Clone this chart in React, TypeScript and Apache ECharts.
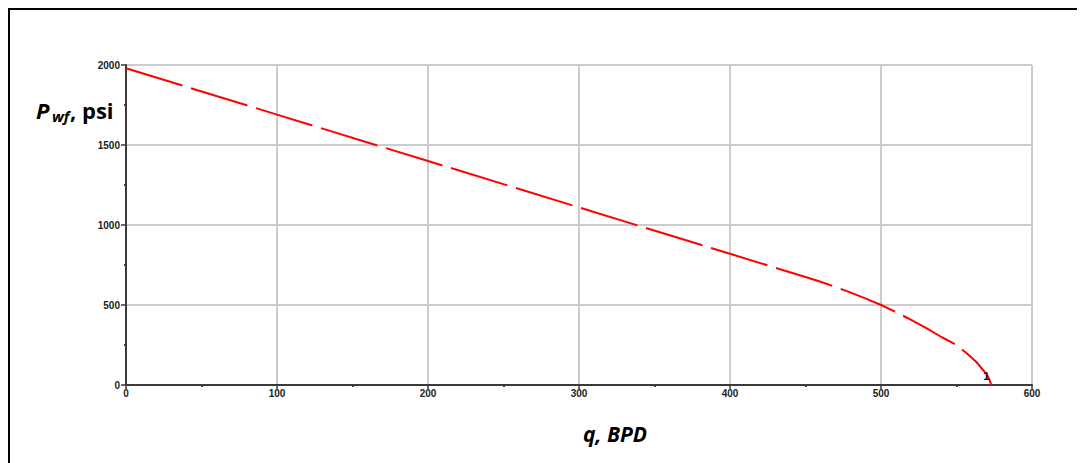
import React, { useEffect, useRef } from "react";
import * as echarts from "echarts";

// IPR curve
const qValues = [0, 100, 200, 300, 400, 450, 460, 470, 480, 490, 500, 510, 520, 530, 540, 548, 556, 563, 567, 570, 572, 573];
const pwfValues = [1980, 1690, 1400, 1110, 820, 675, 645, 612, 577, 540, 500, 455, 407, 355, 300, 260, 205, 146, 100, 68, 30, 0];
const curveLabel = "1";

const xMin = 0;
const xMax = 600;
const xStep = 100;
const yMin = 0;
const yMax = 2000;
const yStep = 500;

const yTitleMain = "P";
const yTitleSub = "wf";
const yTitleRest = ", psi";
const xTitle = "q, BPD";

export default function App() {
  const ref = useRef<HTMLDivElement>(null);

  useEffect(() => {
    if (!ref.current) return;
    const chart = echarts.init(ref.current, undefined, { renderer: "svg" });
    const last = qValues.length - 1;
    const data = qValues.map((q, i) => {
      if (i === last) {
        return {
          value: [q, pwfValues[i]],
          symbol: "circle",
          symbolSize: 1,
          itemStyle: { color: "rgba(0,0,0,0)" },
          label: {
            show: true,
            formatter: curveLabel,
            position: "top",
            distance: 3,
            offset: [-5, 0],
            color: "#111",
            fontSize: 11,
            fontWeight: "bold",
            fontFamily: "Liberation Sans",
          },
        };
      }
      return { value: [q, pwfValues[i]] };
    });

    const axisLabel = {
      color: "#222",
      fontSize: 10,
      fontWeight: "bold" as const,
      fontFamily: "Liberation Sans",
      formatter: (v: number) => String(v),
    };

    chart.setOption({
      animation: false,
      backgroundColor: "#ffffff",
      grid: { left: 118, top: 57, right: 53, bottom: 78, containLabel: false },
      xAxis: {
        type: "value",
        min: xMin,
        max: xMax,
        interval: xStep,
        axisLine: { show: true, onZero: false, lineStyle: { color: "#3a3a3a", width: 2 } },
        axisTick: { show: true, length: 4, lineStyle: { color: "#3a3a3a", width: 1.5 } },
        minorTick: { show: true, splitNumber: 2, length: 2, lineStyle: { color: "#3a3a3a", width: 2 } },
        splitLine: { show: true, lineStyle: { color: "#cccccc", width: 2 } },
        axisLabel: { ...axisLabel, margin: 3 },
      },
      yAxis: {
        type: "value",
        min: yMin,
        max: yMax,
        interval: yStep,
        axisLine: { show: true, onZero: false, lineStyle: { color: "#3a3a3a", width: 2 } },
        axisTick: { show: true, length: 5, lineStyle: { color: "#3a3a3a", width: 1.5 } },
        minorTick: { show: true, splitNumber: 2, length: 2, lineStyle: { color: "#3a3a3a", width: 2 } },
        splitLine: { show: true, lineStyle: { color: "#cccccc", width: 2 } },
        axisLabel: { ...axisLabel, margin: 6 },
      },
      series: [
        {
          type: "line",
          data,
          symbol: "none",
          showSymbol: true,
          smooth: false,
          lineStyle: { color: "#ff0000", width: 2, type: [59, 9] },
          z: 5,
        },
      ],
      graphic: [
        {
          type: "rect",
          shape: { x: 1, y: 1, width: 3000, height: 3000 },
          style: { fill: "none", stroke: "#000", lineWidth: 2 },
          silent: true,
        },
        {
          type: "text",
          x: 28,
          y: 102,
          style: {
            text: yTitleMain,
            fontSize: 22,
            fontStyle: "italic",
            fontWeight: "bold",
            fontFamily: "Open Sans",
            fill: "#000",
            verticalAlign: "middle",
            align: "left",
          },
        },
        {
          type: "text",
          x: 44,
          y: 108,
          style: {
            text: yTitleSub,
            fontSize: 15,
            fontStyle: "italic",
            fontWeight: "bold",
            fontFamily: "Open Sans",
            fill: "#000",
            verticalAlign: "middle",
            align: "left",
          },
        },
        {
          type: "text",
          x: 62,
          y: 102,
          style: {
            text: yTitleRest,
            fontSize: 22,
            fontWeight: "bold",
            fontFamily: "Open Sans",
            fill: "#000",
            verticalAlign: "middle",
            align: "left",
          },
        },
        {
          type: "text",
          x: 575,
          y: 426,
          style: {
            text: xTitle,
            fontSize: 21,
            fontStyle: "italic",
            fontWeight: "bold",
            fontFamily: "Open Sans",
            fill: "#000",
            verticalAlign: "middle",
            align: "left",
          },
        },
      ],
    });
    return () => chart.dispose();
  }, []);

  return <div ref={ref} style={{ width: 1077, height: 455 }} />;
}
